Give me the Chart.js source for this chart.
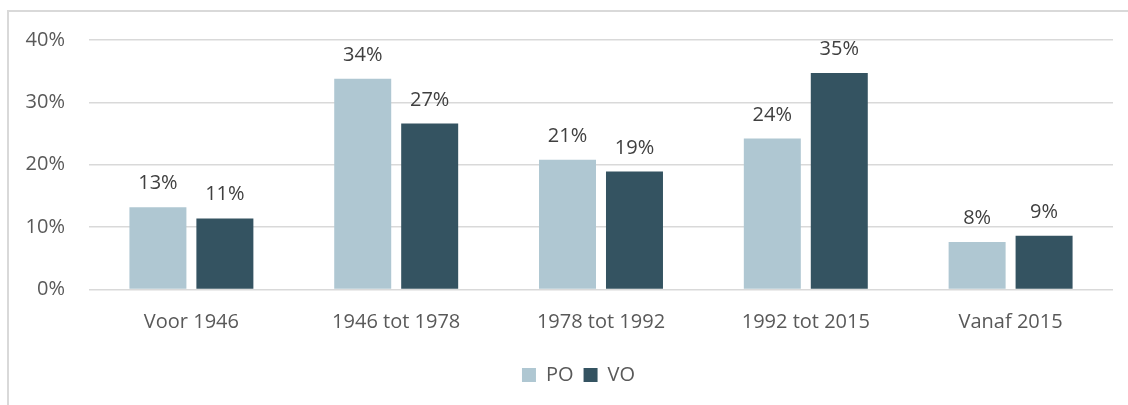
<!DOCTYPE html>
<html>
<head>
<meta charset="utf-8">
<script src="https://cdn.jsdelivr.net/npm/chart.js@4.4.1/dist/chart.umd.min.js"></script>
<style>
  html, body { margin: 0; padding: 0; background: #ffffff; }
  #wrap { position: relative; width: 1128px; height: 405px; overflow: hidden; }
  #frame { position: absolute; left: 7px; top: 10px; width: 1300px; height: 600px;
           border-left: 2px solid #d9d9d9; border-top: 2px solid #d9d9d9; }
  #c { position: absolute; left: 0; top: 0; }
</style>
</head>
<body>
<div id="wrap">
  <div id="frame"></div>
  <canvas id="c" width="1128" height="405"></canvas>
</div>
<script>
const categories = ['Voor 1946', '1946 tot 1978', '1978 tot 1992', '1992 tot 2015', 'Vanaf 2015'];
const seriesNames = ['PO', 'VO'];
const poValues = [13.2, 33.8, 20.8, 24.2, 7.6];
const voValues = [11.4, 26.6, 18.9, 34.7, 8.6];
const yTickValues = [0, 10, 20, 30, 40];

const FONT = "'Open Sans', 'DejaVu Sans', sans-serif";

const valueLabels = {
  id: 'valueLabels',
  afterDatasetsDraw(chart) {
    const ctx = chart.ctx;
    ctx.save();
    ctx.font = '20px ' + FONT;
    ctx.fillStyle = '#404040';
    ctx.textAlign = 'center';
    ctx.textBaseline = 'alphabetic';
    chart.data.datasets.forEach((ds, i) => {
      const meta = chart.getDatasetMeta(i);
      meta.data.forEach((bar, j) => {
        ctx.fillText(Math.round(ds.data[j]) + '%', bar.x, bar.y - 18);
      });
    });
    ctx.restore();
  }
};

// centre the legend on the chart frame rather than on the full canvas
const legendShift = {
  id: 'legendShift',
  afterLayout(chart) {
    if (chart.legend) {
      chart.legend.left += 22;
      chart.legend.right += 22;
    }
  }
};

new Chart(document.getElementById('c'), {
  type: 'bar',
  data: {
    labels: categories,
    datasets: [
      { label: seriesNames[0], data: poValues, backgroundColor: '#afc7d2', borderWidth: 0 },
      { label: seriesNames[1], data: voValues, backgroundColor: '#345361', borderWidth: 0 }
    ]
  },
  options: {
    responsive: false,
    animation: false,
    events: [],
    categoryPercentage: 0.654,
    barPercentage: 0.851,
    layout: { padding: { left: 0, right: 15, top: 40, bottom: 10 } },
    font: { family: FONT, size: 20 },
    scales: {
      x: {
        grid: { display: false, drawTicks: false },
        border: { display: false },
        ticks: { color: '#595959', font: { family: FONT, size: 20 }, padding: 21, maxRotation: 0 },
        afterFit(scale) { scale.height = 65.5; }
      },
      y: {
        min: 0,
        max: 40,
        afterBuildTicks(scale) { scale.ticks = yTickValues.map(v => ({ value: v })); },
        grid: { color: '#d9d9d9', lineWidth: 1.5, drawTicks: false },
        border: { display: false },
        ticks: { color: '#595959', font: { family: FONT, size: 20 }, padding: 24,
                 callback: v => v + '%' },
        afterFit(scale) { scale.width = 89; }
      }
    },
    plugins: {
      legend: {
        position: 'bottom',
        labels: { boxWidth: 14, boxHeight: 14, color: '#595959', padding: 10,
                  font: { family: FONT, size: 20 } }
      },
      tooltip: { enabled: false }
    }
  },
  plugins: [valueLabels, legendShift]
});
</script>
</body>
</html>
